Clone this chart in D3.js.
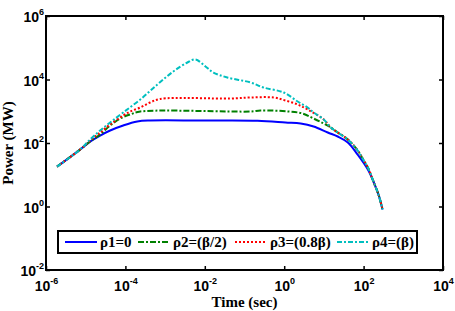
<!DOCTYPE html>
<html>
<head>
<meta charset="utf-8">
<script src="https://cdn.jsdelivr.net/npm/d3@7"></script>
<style>
  body { margin: 0; background: #fff; }
  svg { font-family: "Liberation Serif", "Times New Roman", serif; font-weight: bold; }
</style>
</head>
<body>
<div id="chart"></div>
<script>
// values (time in sec, power in MW)
const time1 = [1.9e-6, 7.2e-6, 1.29e-5, 2.31e-5, 4.13e-5, 8.8e-5, 1.99e-4, 4.2e-4, 7.8e-3, 0.213, 1.08, 2.6, 5.5, 12.5, 22.3, 40, 71, 128, 181, 242, 300];
const power1 = [18, 62, 111, 172, 248, 356, 476, 512, 512, 505, 443, 411, 331, 214, 160, 104, 43, 14.6, 5.7, 2.2, 0.8];

const time2 = [1.9e-6, 7.2e-6, 1.29e-5, 2.31e-5, 4.13e-5, 8.3e-5, 1.32e-4, 2.37e-4, 0.142, 0.254, 1.29, 2.9, 5.5, 9.9, 14.9, 22.3, 40, 71, 101, 128, 181, 242, 300];
const power2 = [18, 62, 111, 185, 356, 636, 791, 983, 983, 1057, 983, 850, 591, 411, 308, 214, 129, 58, 28, 16.9, 5.7, 2.2, 0.8];

const time3 = [1.9e-6, 7.2e-6, 1.29e-5, 2.31e-5, 4.13e-5, 8.8e-5, 1.32e-4, 2.37e-4, 4.2e-4, 7.6e-4, 4.4e-2, 0.142, 0.54, 1.08, 2.18, 3.9, 9.9, 14.9, 22.3, 40, 71, 101, 128, 181, 242, 300];
const power3 = [18, 62, 120, 214, 383, 735, 983, 1312, 1887, 2450, 2520, 2710, 2710, 2181, 1632, 1136, 550, 308, 214, 129, 58, 28, 16.9, 5.7, 2.2, 0.8];

const time4 = [1.9e-6, 7.2e-6, 1.29e-5, 2.31e-5, 4.13e-5, 8.8e-5, 2.37e-4, 6.4e-4, 1.61e-3, 3.64e-3, 5.8e-3, 1.04e-2, 1.65e-2, 3.7e-2, 0.142, 0.30, 0.97, 2.18, 3.9, 5.5, 9.9, 14.9, 22.3, 40, 71, 101, 128, 181, 242, 300];
const power4 = [18, 62, 129, 248, 443, 914, 2344, 6960, 17870, 34300, 42700, 25650, 16600, 11570, 8050, 5600, 3900, 2028, 1312, 914, 550, 308, 214, 129, 58, 28, 16.9, 5.7, 2.2, 0.8];

const seriesNames = ["ρ1=0", "ρ2=(β/2)", "ρ3=(0.8β)", "ρ4=(β)"];
const xTicks = [1e-6, 1e-4, 1e-2, 1e0, 1e2, 1e4];
const yTicks = [1e-2, 1e0, 1e2, 1e4, 1e6];

let width = 455, height = 311,
    margin = ({ top: 16, right: 12, bottom: 41, left: 46 });

const svg = d3.select("#chart").append("svg")
  .attr("width", width)
  .attr("height", height);

let x = d3.scaleLog().domain([1e-6, 1e4]).range([margin.left, width - margin.right]);
let y = d3.scaleLog().domain([1e-2, 1e6]).range([height - margin.bottom, margin.top]);

const series = [
  { name: seriesNames[0], t: time1, p: power1, color: "#0000ff", dash: null },
  { name: seriesNames[1], t: time2, p: power2, color: "#008000", dash: "6,2,2,2" },
  { name: seriesNames[2], t: time3, p: power3, color: "#ff0000", dash: "2,2" },
  { name: seriesNames[3], t: time4, p: power4, color: "#00bfbf", dash: "5,2,2,2" }
];

const line = d3.line()
  .x(d => x(d[0]))
  .y(d => y(d[1]))
  .curve(d3.curveCatmullRom.alpha(0.5));

svg.append("g")
  .selectAll("path")
  .data(series)
  .join("path")
  .attr("fill", "none")
  .attr("stroke", d => d.color)
  .attr("stroke-width", 2)
  .attr("stroke-dasharray", d => d.dash)
  .attr("d", d => line(d.t.map((t, i) => [t, d.p[i]])));

// power-of-ten labels with superscript
function powLabel(sel, sup) {
  sel.each(function(d) {
    const e = Math.round(Math.log10(d));
    const t = d3.select(this).text("");
    t.append("tspan").text("10");
    t.append("tspan").attr("dy", -7).attr("font-size", sup).text(e);
  });
}

const gx = svg.append("g")
  .attr("transform", `translate(0,${height - margin.bottom})`)
  .call(d3.axisBottom(x).tickValues(xTicks).tickSizeInner(-4).tickSizeOuter(0).tickPadding(11));
gx.selectAll(".tick text").attr("font-size", 14).attr("fill", "#000").call(powLabel, 9);

const gy = svg.append("g")
  .attr("transform", `translate(${margin.left},0)`)
  .call(d3.axisLeft(y).tickValues(yTicks).tickSizeInner(-4).tickSizeOuter(0).tickPadding(2));
gy.selectAll(".tick text").attr("font-size", 14).attr("fill", "#000").attr("dy", "0.4em").call(powLabel, 9);

svg.append("g")
  .attr("transform", `translate(0,${margin.top})`)
  .call(d3.axisTop(x).tickValues(xTicks).tickSizeInner(-4).tickSizeOuter(0).tickFormat(""));

svg.append("g")
  .attr("transform", `translate(${width - margin.right},0)`)
  .call(d3.axisRight(y).tickValues(yTicks).tickSizeInner(-4).tickSizeOuter(0).tickFormat(""));

svg.selectAll(".domain").remove();
svg.selectAll(".tick line").attr("stroke", "#000").attr("stroke-width", 1.5);

// frame
svg.append("rect")
  .attr("x", margin.left)
  .attr("y", margin.top)
  .attr("width", width - margin.left - margin.right)
  .attr("height", height - margin.top - margin.bottom)
  .attr("fill", "none")
  .attr("stroke", "#000")
  .attr("stroke-width", 2);

// axis titles
svg.append("text")
  .attr("x", (margin.left + width - margin.right) / 2)
  .attr("y", 307)
  .attr("text-anchor", "middle")
  .attr("font-size", 15)
  .text("Time (sec)");

svg.append("text")
  .attr("transform", `translate(13,${(margin.top + height - margin.bottom) / 2}) rotate(-90)`)
  .attr("text-anchor", "middle")
  .attr("font-size", 15)
  .text("Power (MW)");

// legend
const legend = svg.append("g");
legend.append("rect")
  .attr("x", 58).attr("y", 231)
  .attr("width", 359).attr("height", 22)
  .attr("fill", "#fff")
  .attr("stroke", "#000")
  .attr("stroke-width", 2);

const legendX = [65, 138, 235, 337];
const item = legend.selectAll(".item")
  .data(series)
  .join("g")
  .attr("class", "item")
  .attr("transform", (d, i) => `translate(${legendX[i]},242)`);

item.append("line")
  .attr("x1", 0).attr("x2", 32)
  .attr("stroke", d => d.color)
  .attr("stroke-width", 2)
  .attr("stroke-dasharray", d => d.dash);

item.append("text")
  .attr("x", 35)
  .attr("dy", "0.35em")
  .attr("font-size", 15)
  .text(d => d.name);
</script>
</body>
</html>
